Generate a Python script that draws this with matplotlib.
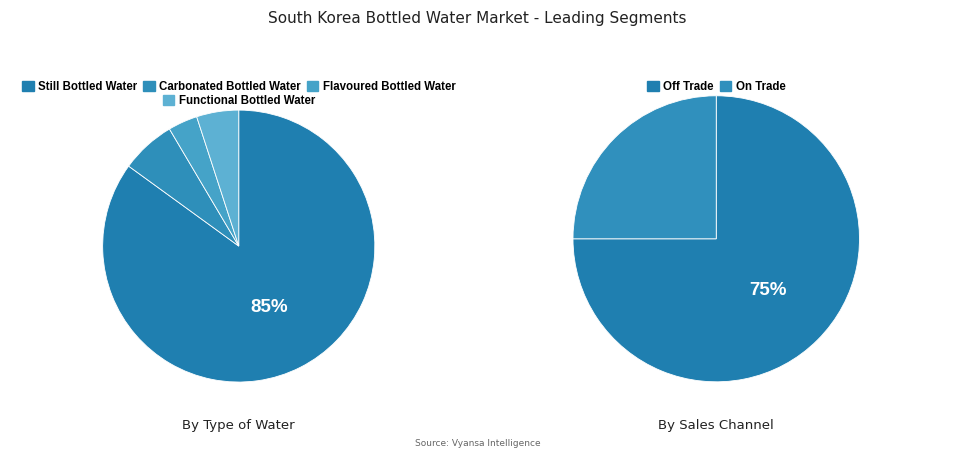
import matplotlib
matplotlib.use("Agg")
import matplotlib.pyplot as plt
from matplotlib.patches import Patch

type_labels = ["Still Bottled Water", "Carbonated Bottled Water", "Flavoured Bottled Water", "Functional Bottled Water"]
type_values = [85, 6.5, 3.5, 5]
type_colors = ["#1f7fb0", "#2e8fba", "#45a3c8", "#5db1d3"]
channel_labels = ["Off Trade", "On Trade"]
channel_values = [75, 25]
channel_colors = ["#1f7fb0", "#3090bd"]

fig = plt.figure(figsize=(9.55, 4.54), dpi=100)
fig.text(0.5, 0.975, "South Korea Bottled Water Market - Leading Segments", ha="center", va="top", fontsize=11, color="#222")

def legend_row(handles, labels, cx, y):
    fig.legend(handles, labels, loc="upper center", bbox_to_anchor=(cx, y), ncol=len(labels),
               frameon=False, prop=dict(weight="bold", size=8.3, family="Liberation Sans"),
               handlelength=1.0, handleheight=1.0, handletextpad=0.4, columnspacing=0.5, borderpad=0)

def draw(rect, vals, cols, labels, pct, pos, rows, sub):
    ax = fig.add_axes(rect)
    ax.pie(vals, colors=cols, startangle=90, counterclock=False,
           wedgeprops=dict(edgecolor="white", linewidth=0.6))
    ax.set_xlim(-1, 1); ax.set_ylim(-1, 1); ax.set_aspect("auto")
    ax.text(pos[0], pos[1], pct, ha="center", va="center", color="white", fontsize=13.5,
            fontweight="bold", family="Liberation Sans")
    cx = rect[0] + rect[2] / 2
    handles = [Patch(color=c) for c in cols]
    start = 0
    for i, n in enumerate(rows):
        legend_row(handles[start:start + n], labels[start:start + n], cx, 0.835 - i * 0.031)
        start += n
    fig.text(cx, 1 - 425 / 454, sub, ha="center", va="center", fontsize=9.5, color="#222")

draw([0.25 - 0.1425, 0.458 - 0.2995, 0.285, 0.599], type_values, type_colors, type_labels, "85%", (0.22, -0.45), [3, 1], "By Type of Water")
draw([0.75 - 0.15, 0.474 - 0.315, 0.30, 0.63], channel_values, channel_colors, channel_labels, "75%", (0.36, -0.36), [2], "By Sales Channel")
fig.text(0.5, 1 - 444 / 454, "Source: Vyansa Intelligence", ha="center", va="center", fontsize=6.5, color="#666")
fig.savefig("out.png", dpi=100, facecolor="white")
